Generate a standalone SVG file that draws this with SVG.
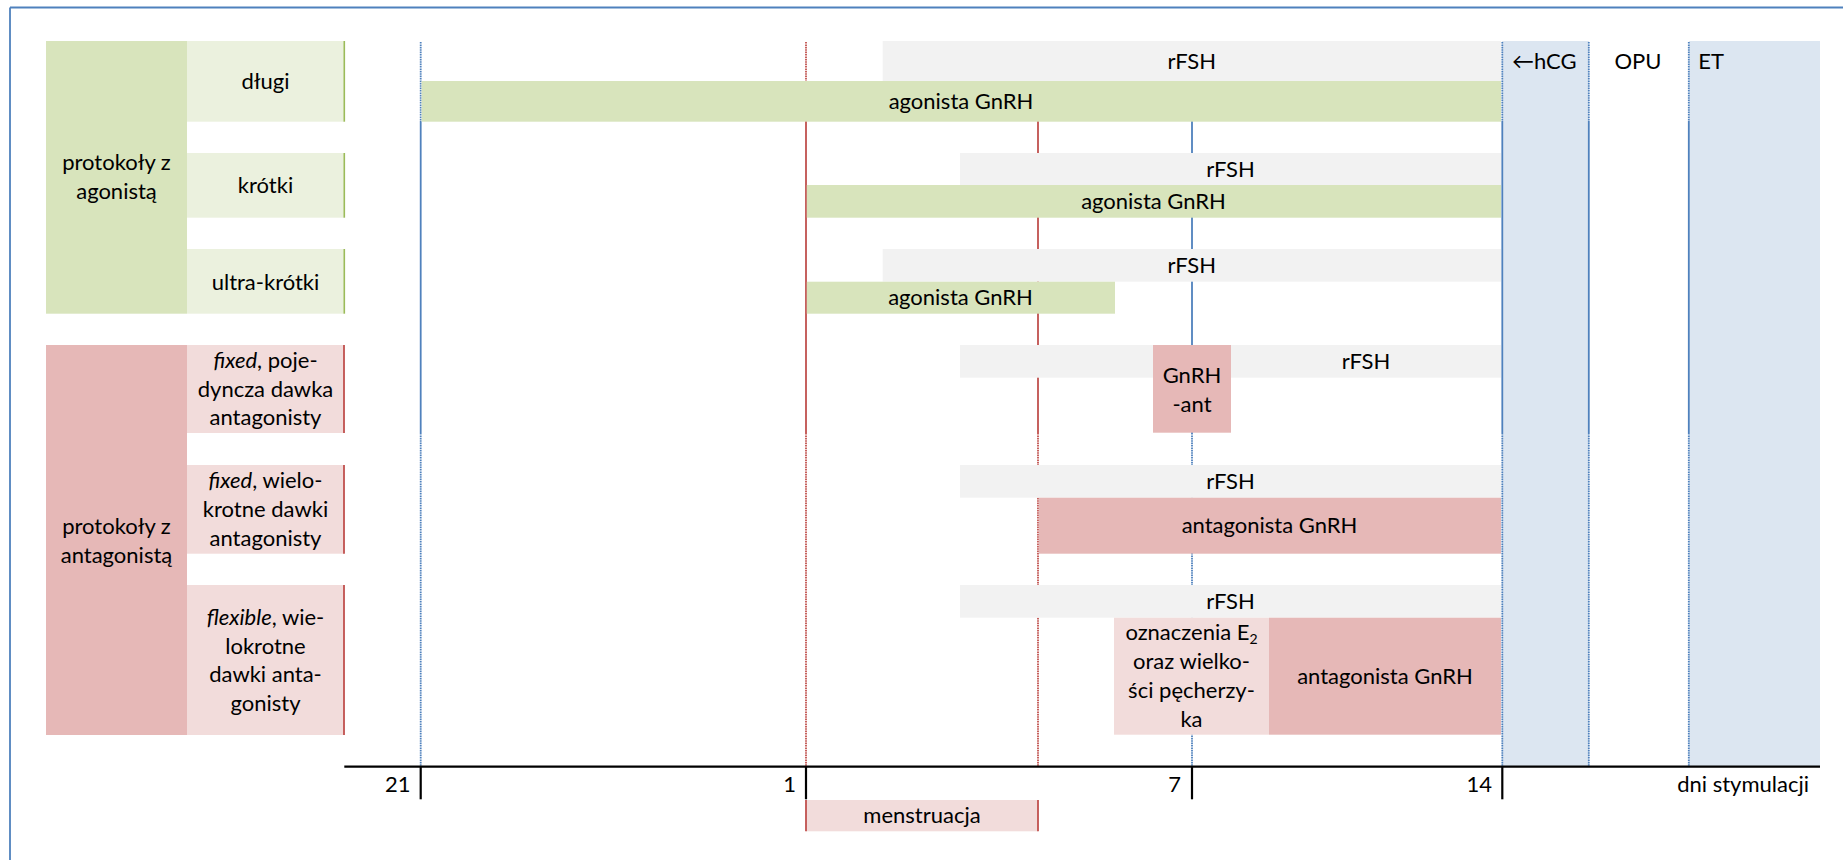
<svg xmlns="http://www.w3.org/2000/svg" width="1843" height="860" viewBox="0 0 1843 860">
<style>
text{font-family:Lato,"Liberation Sans",sans-serif;font-size:22px;fill:#000}
.c{text-anchor:middle}
.e{text-anchor:end}
.it{font-style:italic}
.g1{fill:#d8e4bc}.g2{fill:#ebf1de}.r1{fill:#e6b8b7}.r2{fill:#f2dcdb}.gr{fill:#f2f2f2}.bl{fill:#dce6f1}
.bs{stroke:#4f81bd;stroke-width:1.8;fill:none}
.rs{stroke:#c0504d;stroke-width:1.8;fill:none}
.dot{stroke-dasharray:1.6 0.8}
.ax{stroke:#000;stroke-width:2.2;fill:none}
</style>
<g id="frame">
<line x1="10" y1="7.5" x2="1843" y2="7.5" class="bs"/>
<line x1="10" y1="7.5" x2="10" y2="860" class="bs"/>
</g>
<g id="columns">
<rect class="bl" x="1502" y="41" width="87" height="726"/>
<rect class="bl" x="1689" y="41" width="131" height="726"/>
</g>
<g id="connectors">
<line class="bs dot" x1="420.7" y1="42" x2="420.7" y2="121"/>
<line class="bs" x1="420.7" y1="121" x2="420.7" y2="433"/>
<line class="bs dot" x1="420.7" y1="433" x2="420.7" y2="766"/>
<line class="rs dot" x1="806" y1="42" x2="806" y2="121"/>
<line class="rs" x1="806" y1="121" x2="806" y2="433"/>
<line class="rs dot" x1="806" y1="433" x2="806" y2="766"/>
<line class="rs dot" x1="1038" y1="42" x2="1038" y2="121"/>
<line class="rs" x1="1038" y1="121" x2="1038" y2="433"/>
<line class="rs dot" x1="1038" y1="433" x2="1038" y2="766"/>
<line class="bs dot" x1="1192" y1="42" x2="1192" y2="121"/>
<line class="bs" x1="1192" y1="121" x2="1192" y2="433"/>
<line class="bs dot" x1="1192" y1="433" x2="1192" y2="766"/>
<line class="bs dot" x1="1502.3" y1="42" x2="1502.3" y2="121" stroke-width="2.6"/>
<line class="bs" x1="1502.3" y1="121" x2="1502.3" y2="433" stroke-width="2.6"/>
<line class="bs dot" x1="1502.3" y1="433" x2="1502.3" y2="766" stroke-width="2.6"/>
<line class="bs dot" x1="1588.8" y1="42" x2="1588.8" y2="121"/>
<line class="bs" x1="1588.8" y1="121" x2="1588.8" y2="433"/>
<line class="bs dot" x1="1588.8" y1="433" x2="1588.8" y2="766"/>
<line class="bs dot" x1="1688.8" y1="42" x2="1688.8" y2="121"/>
<line class="bs" x1="1688.8" y1="121" x2="1688.8" y2="433"/>
<line class="bs dot" x1="1688.8" y1="433" x2="1688.8" y2="766"/>
</g>
<g id="agonist-group">
<rect class="g1" x="46" y="41" width="141" height="272.7"/>
<text class="c" x="116.5" y="170">protokoły z</text>
<text class="c" x="116.5" y="199">agonistą</text>
</g>
<g id="dlugi-label">
<rect class="g2" x="187" y="41" width="157" height="80.7"/>
<line x1="344.3" y1="41" x2="344.3" y2="121.7" stroke="#9bbb59" stroke-width="1.6"/>
<text class="c" x="265.5" y="89">długi</text>
</g>
<g id="krotki-label">
<rect class="g2" x="187" y="153" width="157" height="64.7"/>
<line x1="344.3" y1="153" x2="344.3" y2="217.7" stroke="#9bbb59" stroke-width="1.6"/>
<text class="c" x="265.5" y="192.7">krótki</text>
</g>
<g id="ultra-label">
<rect class="g2" x="187" y="249" width="157" height="64.7"/>
<line x1="344.3" y1="249" x2="344.3" y2="313.7" stroke="#9bbb59" stroke-width="1.6"/>
<text class="c" x="265.5" y="289.5">ultra-krótki</text>
</g>
<g id="antagonist-group">
<rect class="r1" x="46" y="345" width="141" height="390"/>
<text class="c" x="116.5" y="534">protokoły z</text>
<text class="c" x="116.5" y="562.5">antagonistą</text>
</g>
<g id="fixed-single-label">
<rect class="r2" x="187" y="345" width="157" height="88"/>
<line x1="344" y1="345" x2="344" y2="433" class="rs"/>
<text class="c" x="265.5" y="368"><tspan class="it">fixed</tspan>, poje-</text>
<text class="c" x="265.5" y="396.7">dyncza dawka</text>
<text class="c" x="265.5" y="425.4">antagonisty</text>
</g>
<g id="fixed-multi-label">
<rect class="r2" x="187" y="465" width="157" height="88.7"/>
<line x1="344" y1="465" x2="344" y2="553.7" class="rs"/>
<text class="c" x="265.5" y="488.3"><tspan class="it">fixed</tspan>, wielo-</text>
<text class="c" x="265.5" y="517">krotne dawki</text>
<text class="c" x="265.5" y="545.7">antagonisty</text>
</g>
<g id="flexible-label">
<rect class="r2" x="187" y="585" width="157" height="150"/>
<line x1="344" y1="585" x2="344" y2="735" class="rs"/>
<text class="c" x="265.5" y="625"><tspan class="it">flexible</tspan>, wie-</text>
<text class="c" x="265.5" y="653.7">lokrotne</text>
<text class="c" x="265.5" y="682.4">dawki anta-</text>
<text class="c" x="265.5" y="711">gonisty</text>
</g>
<g id="dlugi-bars">
<rect class="gr" x="882.7" y="41" width="618.3" height="40"/>
<text class="c" x="1191.8" y="68.8">rFSH</text>
<rect class="g1" x="421.6" y="81" width="1079.4" height="40.7"/>
<text class="c" x="961" y="108.8">agonista GnRH</text>
</g>
<g id="krotki-bars">
<rect class="gr" x="960" y="153" width="541" height="32"/>
<text class="c" x="1230.5" y="176.6">rFSH</text>
<rect class="g1" x="806.8" y="185" width="694.2" height="32.7"/>
<text class="c" x="1153.5" y="208.8">agonista GnRH</text>
</g>
<g id="ultra-bars">
<rect class="gr" x="882.7" y="249" width="618.3" height="32.7"/>
<text class="c" x="1191.8" y="272.9">rFSH</text>
<rect class="g1" x="806.8" y="281.7" width="308.2" height="32"/>
<text class="c" x="960.5" y="305.3">agonista GnRH</text>
</g>
<g id="fixed-single-bars">
<rect class="gr" x="960" y="345" width="193" height="32.7"/>
<rect class="gr" x="1231" y="345" width="270" height="32.7"/>
<text class="c" x="1366" y="368.8">rFSH</text>
<rect class="r1" x="1153" y="345" width="78" height="87.7"/>
<text class="c" x="1192" y="383.3">GnRH</text>
<text class="c" x="1192" y="411.7">-ant</text>
</g>
<g id="fixed-multi-bars">
<rect class="gr" x="960" y="465" width="541" height="32.7"/>
<text class="c" x="1230.5" y="488.7">rFSH</text>
<rect class="r1" x="1038.8" y="497.7" width="462.2" height="56"/>
<text class="c" x="1269.5" y="533.2">antagonista GnRH</text>
</g>
<g id="flexible-bars">
<rect class="gr" x="960" y="585" width="541" height="32.7"/>
<text class="c" x="1230.5" y="608.7">rFSH</text>
<rect class="r2" x="1114" y="617.7" width="155" height="117"/>
<text class="c" x="1191.5" y="640">oznaczenia E<tspan font-size="14" dy="4">2</tspan></text>
<text class="c" x="1191.5" y="669">oraz wielko-</text>
<text class="c" x="1191.5" y="698">ści pęcherzy-</text>
<text class="c" x="1191.5" y="727">ka</text>
<rect class="r1" x="1269" y="617.7" width="232" height="117"/>
<text class="c" x="1385" y="683.5">antagonista GnRH</text>
</g>
<g id="hcg-opu-et">
<text x="1512" y="69">←hCG</text>
<text class="c" x="1638" y="69">OPU</text>
<text x="1698.3" y="69">ET</text>
</g>
<g id="axis">
<line class="ax" x1="344.3" y1="766.7" x2="1820" y2="766.7"/>
<line class="ax" x1="420.7" y1="766.7" x2="420.7" y2="799.3"/>
<line class="ax" x1="806" y1="766.7" x2="806" y2="799.3"/>
<line class="ax" x1="1192" y1="766.7" x2="1192" y2="799.3"/>
<line class="ax" x1="1502.3" y1="766.7" x2="1502.3" y2="799.3"/>
<text class="e" x="410.5" y="791.7">21</text>
<text class="e" x="796" y="791.7">1</text>
<text class="e" x="1181" y="791.7">7</text>
<text class="e" x="1492" y="791.7">14</text>
<text class="e" x="1809" y="791.7">dni stymulacji</text>
</g>
<g id="menstruacja">
<rect class="r2" x="806" y="800" width="232" height="31.3"/>
<line class="rs" x1="806" y1="800" x2="806" y2="831.3"/>
<line class="rs" x1="1038" y1="800" x2="1038" y2="831.3"/>
<text class="c" x="922" y="823">menstruacja</text>
</g>
</svg>
